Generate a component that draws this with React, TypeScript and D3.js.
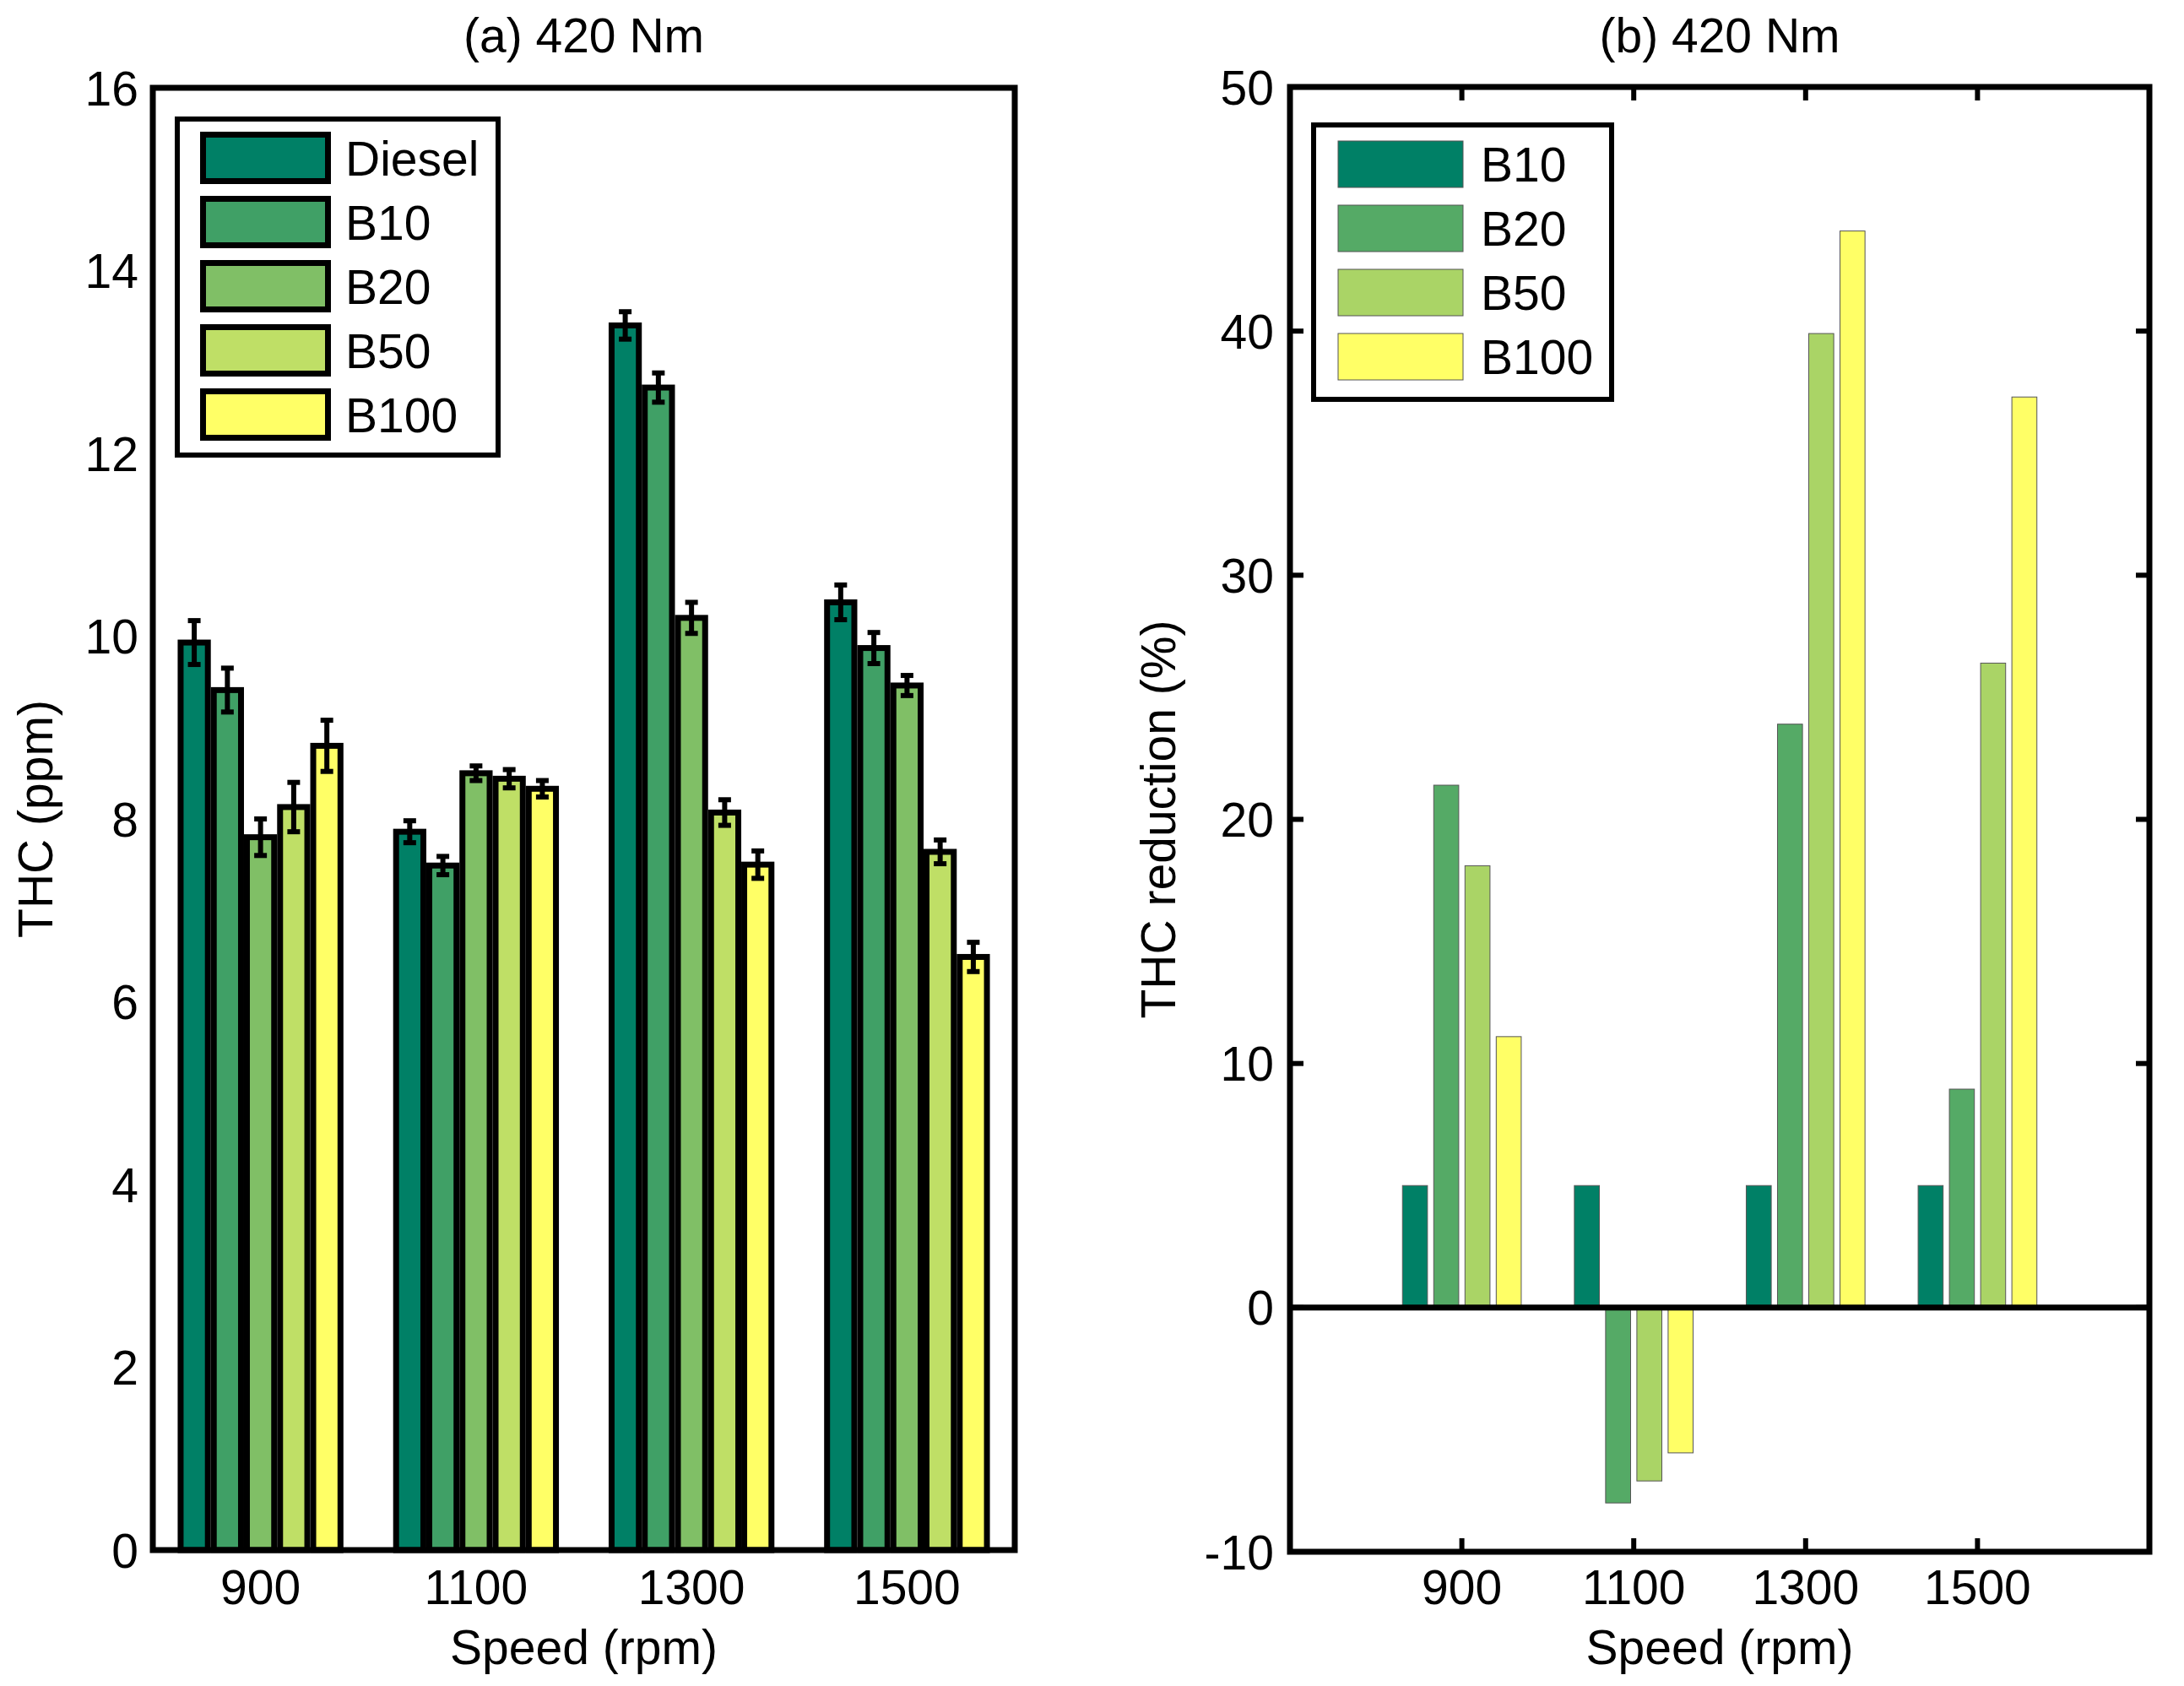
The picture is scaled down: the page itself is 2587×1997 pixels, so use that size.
import * as d3 from "d3";

// categories
const speeds = ["900", "1100", "1300", "1500"];

// (a) THC in ppm
const fuelsA = ["Diesel", "B10", "B20", "B50", "B100"];
const thcDiesel = [9.93, 7.86, 13.4, 10.37];
const thcB10 = [9.41, 7.49, 12.72, 9.87];
const thcB20 = [7.8, 8.5, 10.2, 9.46];
const thcB50 = [8.13, 8.44, 8.07, 7.64];
const thcB100 = [8.8, 8.33, 7.5, 6.49];
const errDiesel = [0.24, 0.12, 0.15, 0.19];
const errB10 = [0.24, 0.1, 0.16, 0.17];
const errB20 = [0.2, 0.08, 0.17, 0.11];
const errB50 = [0.27, 0.1, 0.14, 0.13];
const errB100 = [0.28, 0.09, 0.15, 0.16];
const ticksA = [0, 2, 4, 6, 8, 10, 12, 14, 16];

// (b) THC reduction in %
const fuelsB = ["B10", "B20", "B50", "B100"];
const redB10 = [5, 5, 5, 5];
const redB20 = [21.4, -8.0, 23.9, 8.95];
const redB50 = [18.1, -7.1, 39.9, 26.4];
const redB100 = [11.1, -5.95, 44.1, 37.3];
const ticksB = [-10, 0, 10, 20, 30, 40, 50];

const colorsA = ["#008066", "#40a066", "#80bf66", "#bfdf66", "#ffff66"];
const colorsB = ["#008066", "#55aa66", "#aad466", "#ffff66"];

const FONT = "'Liberation Sans', Arial, Helvetica, sans-serif";
const FS = 57;

const seriesA = [thcDiesel, thcB10, thcB20, thcB50, thcB100];
const errsA = [errDiesel, errB10, errB20, errB50, errB100];
const seriesB = [redB10, redB20, redB50, redB100];

function PanelA() {
  const left = 181, right = 1202, top = 104, bottom = 1836;
  const x = d3.scaleLinear().domain([0.5, 4.5]).range([left, right]);
  const y = d3.scaleLinear().domain([0, 16]).range([bottom, top]);
  const n = fuelsA.length;
  const groupW = n / (n + 1.5);
  const step = groupW / n;
  const strokeW = 7;
  const pxStep = x(step) - x(0);
  const barW = pxStep - strokeW;
  const capHalf = 7.5;
  const cx = (left + right) / 2;

  return (
    <g>
      <text x={cx} y={62} textAnchor="middle" fontSize={FS}>(a) 420 Nm</text>
      {seriesA.map((vals, j) =>
        vals.map((v, i) => {
          const c = x(i + 1) + (j - (n - 1) / 2) * pxStep;
          return (
            <rect
              key={`a${j}-${i}`}
              x={c - barW / 2}
              y={y(v)}
              width={barW}
              height={y(0) - y(v)}
              fill={colorsA[j]}
              stroke="#000"
              strokeWidth={strokeW}
            />
          );
        })
      )}
      {seriesA.map((vals, j) =>
        vals.map((v, i) => {
          const c = x(i + 1) + (j - (n - 1) / 2) * pxStep;
          const e = errsA[j][i];
          return (
            <g key={`e${j}-${i}`} stroke="#000" strokeWidth={6}>
              <line x1={c} x2={c} y1={y(v + e)} y2={y(v - e)} />
              <line x1={c - capHalf} x2={c + capHalf} y1={y(v + e)} y2={y(v + e)} />
              <line x1={c - capHalf} x2={c + capHalf} y1={y(v - e)} y2={y(v - e)} />
            </g>
          );
        })
      )}
      <rect x={left} y={top} width={right - left} height={bottom - top} fill="none" stroke="#000" strokeWidth={7} />
      {ticksA.map((t) => (
        <text key={t} x={164} y={y(t)} dy="0.36em" textAnchor="end" fontSize={FS}>{t}</text>
      ))}
      {speeds.map((s, i) => (
        <text key={s} x={x(i + 1)} y={1900} textAnchor="middle" fontSize={FS}>{s}</text>
      ))}
      <text x={cx} y={1971} textAnchor="middle" fontSize={FS}>Speed (rpm)</text>
      <text transform={`translate(62,${(top + bottom) / 2}) rotate(-90)`} textAnchor="middle" fontSize={FS}>THC (ppm)</text>
      {/* legend */}
      <rect x={210} y={141} width={380} height={398} fill="#fff" stroke="#000" strokeWidth={6} />
      {fuelsA.map((f, j) => {
        const cy = 187 + j * 76;
        return (
          <g key={f}>
            <rect x={240.5} y={cy - 27.5} width={148} height={55} fill={colorsA[j]} stroke="#000" strokeWidth={7} />
            <text x={409} y={cy} dy="0.36em" fontSize={FS}>{f}</text>
          </g>
        );
      })}
    </g>
  );
}

function PanelB() {
  const left = 1528, right = 2546, top = 103, bottom = 1838;
  const x = d3.scaleLinear().domain([0, 5]).range([left, right]);
  const y = d3.scaleLinear().domain([-10, 50]).range([bottom, top]);
  const n = fuelsB.length;
  const groupW = Math.min(0.8, n / (n + 1.5));
  const step = groupW / n;
  const pxStep = x(step) - x(0);
  const barW = pxStep * 0.8;
  const cx = (left + right) / 2;
  const tl = 16;

  return (
    <g>
      <text x={cx} y={62} textAnchor="middle" fontSize={FS}>(b) 420 Nm</text>
      {seriesB.map((vals, j) =>
        vals.map((v, i) => {
          const c = x(i + 1) + (j - (n - 1) / 2) * pxStep;
          return (
            <rect
              key={`b${j}-${i}`}
              x={c - barW / 2}
              y={y(Math.max(v, 0))}
              width={barW}
              height={Math.abs(y(v) - y(0))}
              fill={colorsB[j]}
              stroke="#555"
              strokeWidth={1}
            />
          );
        })
      )}
      <line x1={left} x2={right} y1={y(0)} y2={y(0)} stroke="#000" strokeWidth={7} />
      <g stroke="#000" strokeWidth={6}>
        {ticksB.map((t) => (
          <g key={t}>
            <line x1={left} x2={left + tl} y1={y(t)} y2={y(t)} />
            <line x1={right} x2={right - tl} y1={y(t)} y2={y(t)} />
          </g>
        ))}
        {speeds.map((s, i) => (
          <g key={s}>
            <line x1={x(i + 1)} x2={x(i + 1)} y1={bottom} y2={bottom - tl} />
            <line x1={x(i + 1)} x2={x(i + 1)} y1={top} y2={top + tl} />
          </g>
        ))}
      </g>
      <rect x={left} y={top} width={right - left} height={bottom - top} fill="none" stroke="#000" strokeWidth={7} />
      {ticksB.map((t) => (
        <text key={t} x={1509} y={y(t)} dy="0.36em" textAnchor="end" fontSize={FS}>{t}</text>
      ))}
      {speeds.map((s, i) => (
        <text key={s} x={x(i + 1)} y={1900} textAnchor="middle" fontSize={FS}>{s}</text>
      ))}
      <text x={cx} y={1971} textAnchor="middle" fontSize={FS}>Speed (rpm)</text>
      <text transform={`translate(1392,${(top + bottom) / 2}) rotate(-90)`} textAnchor="middle" fontSize={FS}>THC reduction (%)</text>
      {/* legend */}
      <rect x={1556} y={148} width={353} height={325} fill="#fff" stroke="#000" strokeWidth={6} />
      {fuelsB.map((f, j) => {
        const cy = 194.5 + j * 76;
        return (
          <g key={f}>
            <rect x={1585} y={cy - 27.5} width={148} height={55} fill={colorsB[j]} stroke="#555" strokeWidth={1} />
            <text x={1754} y={cy} dy="0.36em" fontSize={FS}>{f}</text>
          </g>
        );
      })}
    </g>
  );
}

export default function App() {
  return (
    <svg
      width={2587}
      height={1997}
      style={{ position: "absolute", left: 0, top: 0, background: "#fff" }}
      fontFamily={FONT}
    >
      <rect width={2587} height={1997} fill="#fff" />
      <PanelA />
      <PanelB />
    </svg>
  );
}
